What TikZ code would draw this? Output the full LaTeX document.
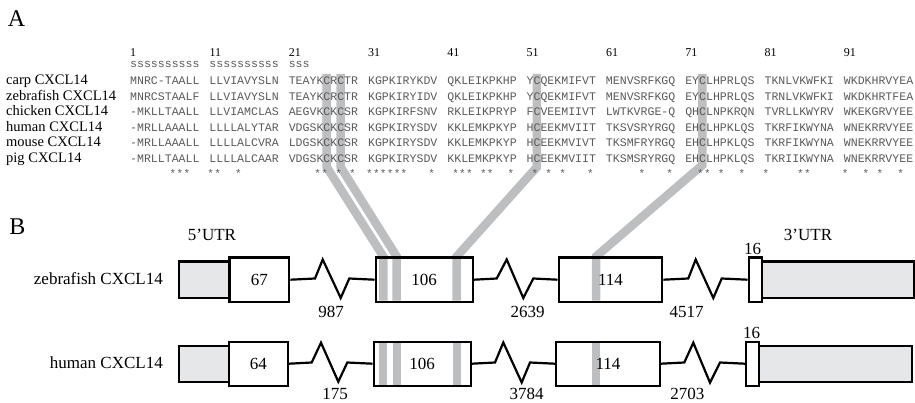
\documentclass[tikz,border=0pt]{standalone}
\usepackage{fontspec}
\setmainfont{Liberation Serif}
\newfontfamily\seqfont{Liberation Mono}
\usetikzlibrary{backgrounds}
\definecolor{hl}{HTML}{BDBEC0}
\definecolor{utr}{HTML}{E6E7E8}
\definecolor{seqgray}{HTML}{5A5A5A}
\newcommand{\bgap}{\hspace{10pt}}
\begin{document}
\begin{tikzpicture}[x=1pt,y=-1pt,
  seq/.style={font=\seqfont\fontsize{11.55}{13}\selectfont, text=seqgray, inner sep=0, anchor=base west},
  seqname/.style={font=\fontsize{14.5}{16}\selectfont, inner sep=0, anchor=base west},
  posnum/.style={font=\fontsize{12}{14}\selectfont, inner sep=0, anchor=base west},
  starmark/.style={font=\seqfont\fontsize{11}{12}\selectfont, text=seqgray, inner sep=0},
  panel/.style={font=\fontsize{24}{28}\selectfont, inner sep=0},
  gene/.style={font=\fontsize{17}{20}\selectfont, inner sep=0, anchor=base east},
  exon/.style={draw, line width=2.4pt, inner sep=0, anchor=north west, minimum height=44pt, font=\fontsize{17}{20}\selectfont},
  utrbox/.style={draw, fill=utr, line width=2.4pt, inner sep=0, anchor=north west, minimum height=36pt},
  intron/.style={line width=2.2pt, line join=miter},
  lbl/.style={font=\fontsize{17}{20}\selectfont, inner sep=0},
  cys/.style={draw=hl, line width=8.5pt, line join=miter},
  bar/.style={fill=hl}]
\useasboundingbox (0,0) rectangle (915,403);

% ---------- Panel A ----------
\node[panel] (A) at (16.5,18.5) {A};
\foreach \k [count=\i from 0] in {1,11,21,31,41,51,61,71,81,91}
  \node[posnum] (n\k) at (130+79.3*\i,56.5) {\k};
\node[seq] (ss) at (130,68) {ssssssssss\bgap ssssssssss\bgap sss};

\node[seqname] (lcarp) at (6,85) {carp CXCL14};
\node[seqname] (lzeb)  at (6,100.5) {zebrafish CXCL14};
\node[seqname] (lchk)  at (6,116) {chicken CXCL14};
\node[seqname] (lhum)  at (6,131.5) {human CXCL14};
\node[seqname] (lmou)  at (6,147) {mouse CXCL14};
\node[seqname] (lpig)  at (6,162.5) {pig CXCL14};

\node[seq] (scarp) at (130,85) {MNRC-TAALL\bgap LLVIAVYSLN\bgap TEAYKCRCTR\bgap KGPKIRYKDV\bgap QKLEIKPKHP\bgap YCQEKMIFVT\bgap MENVSRFKGQ\bgap EYCLHPRLQS\bgap TKNLVKWFKI\bgap WKDKHRVYEA};
\node[seq] (szeb) at (130,100.5) {MNRCSTAALF\bgap LLVIAVYSLN\bgap TEAYKCRCTR\bgap KGPKIRYIDV\bgap QKLEIKPKHP\bgap YCQEKMIFVT\bgap MENVSRFKGQ\bgap EYCLHPRLQS\bgap TRNLVKWFKI\bgap WKDKHRTFEA};
\node[seq] (schk) at (130,116) {-MKLLTAALL\bgap LLVIAMCLAS\bgap AEGVKCKCSR\bgap KGPKIRFSNV\bgap RKLEIKPRYP\bgap FCVEEMIIVT\bgap LWTKVRGE-Q\bgap QHCLNPKRQN\bgap TVRLLKWYRV\bgap WKEKGRVYEE};
\node[seq] (shum) at (130,131.5) {-MRLLAAALL\bgap LLLLALYTAR\bgap VDGSKCKCSR\bgap KGPKIRYSDV\bgap KKLEMKPKYP\bgap HCEEKMVIIT\bgap TKSVSRYRGQ\bgap EHCLHPKLQS\bgap TKRFIKWYNA\bgap WNEKRRVYEE};
\node[seq] (smou) at (130,147) {-MRLLAAALL\bgap LLLLALCVRA\bgap LDGSKCKCSR\bgap KGPKIRYSDV\bgap KKLEMKPKYP\bgap HCEEKMVIVT\bgap TKSMFRYRGQ\bgap EHCLHPKLQS\bgap TKRFIKWYNA\bgap WNEKRRVYEE};
\node[seq] (spig) at (130,162.5) {-MRLLTAALL\bgap LLLLALCAAR\bgap VDGSKCKCSR\bgap KGPKIRYSDV\bgap KKLEMKPKYP\bgap HCEEKMVIIT\bgap TKSMSRYRGQ\bgap EHCLHPKLQS\bgap TKRIIKWYNA\bgap WNEKRRVYEE};

\foreach \c in {7,8,9,11,12,15,25,26,28,30,31,32,33,34,35,36,40,42,43,44,46,47,50,52,54,56,60,66,70,73,74,76,79,81,86,87,91,94,96,99}{
  \pgfmathtruncatemacro\bb{(\c-1)/10}
  \pgfmathsetmacro\xx{130+79.3*\bb+(\c-1-10*\bb+0.5)*6.93-2}
  \node[starmark] (st\c) at (\xx,174) {*};
}

% ---------- Panel B ----------
\node[panel] (B) at (17.5,227) {B};
\node[lbl] (utr5) at (212,235) {5’UTR};
\node[lbl] (utr3) at (808,235) {3’UTR};
\node[gene] (gz) at (163,284) {zebrafish CXCL14};
\node[gene] (gh) at (163,368) {human CXCL14};

% zebrafish gene
\node[utrbox, minimum width=50.8pt] (uz5) at (177.5,260.5) {};
\node[exon, minimum width=59.7pt] (ez1) at (228.3,256.5) {67};
\node[exon, minimum width=97pt] (ez2) at (374.5,256.5) {106};
\node[exon, minimum width=103.5pt] (ez3) at (557.5,256.5) {114};
\node[utrbox, minimum width=152pt] (uz3) at (760.5,260.5) {};
\node[exon, minimum width=13pt] (ez4) at (747.5,256.5) {};
\node[lbl] (lz4) at (752.5,248.5) {16};

\draw[intron] (ez1.east) -- (315,278.5) -- (322.7,259.5) -- (340.7,298) -- (349.3,278.5) -- (ez2.west);
\draw[intron] (ez2.east) -- (496.7,278.5) -- (506.7,259.5) -- (523.3,298) -- (533.3,278.5) -- (ez3.west);
\draw[intron] (ez3.east) -- (688.3,278.5) -- (695.7,259.5) -- (713.3,298) -- (721.7,278.5) -- (ez4.west);
\node[lbl] (iz1) at (331,311.5) {987};
\node[lbl] (iz2) at (527.7,311.5) {2639};
\node[lbl] (iz3) at (686.7,311.5) {4517};

% human gene
\node[utrbox, minimum width=50.2pt] (uh5) at (177.5,344.5) {};
\node[exon, minimum width=59pt] (eh1) at (227.7,340.5) {64};
\node[exon, minimum width=97pt] (eh2) at (372.5,340.5) {106};
\node[exon, minimum width=103.5pt] (eh3) at (555,340.5) {114};
\node[utrbox, minimum width=153pt] (uh3) at (758,344.5) {};
\node[exon, minimum width=13pt] (eh4) at (745,340.5) {};
\node[lbl] (lh4) at (751.5,333) {16};

\draw[intron] (eh1.east) -- (311.7,362.5) -- (321,342.7) -- (338.3,381.7) -- (347.3,362.5) -- (eh2.west);
\draw[intron] (eh2.east) -- (495,362.5) -- (503.3,342.5) -- (521.7,382.5) -- (530,362.5) -- (eh3.west);
\draw[intron] (eh3.east) -- (684.3,362.5) -- (693.3,342.7) -- (710,382.7) -- (720,362.5) -- (eh4.west);
\node[lbl] (ih1) at (335,394) {175};
\node[lbl] (ih2) at (526.7,394) {3784};
\node[lbl] (ih3) at (687.3,394) {2703};

% conserved cysteines
\coordinate (c26) at (326.7,74);  \coordinate (k26) at (326.7,167);
\coordinate (c28) at (340.6,74);  \coordinate (k28) at (340.6,167);
\coordinate (c52) at (536.9,74);  \coordinate (k52) at (536.9,167);
\coordinate (c73) at (702.4,74);  \coordinate (k73) at (702.4,165);
\coordinate (t26) at (383.3,256.5); \coordinate (b26) at (383.3,300.5);
\coordinate (t28) at (396.7,256.5); \coordinate (b28) at (396.7,300.5);
\coordinate (t52) at (456.7,256.5); \coordinate (b52) at (456.7,300.5);
\coordinate (t73) at (596,256.5);   \coordinate (b73) at (596,300.5);
\begin{scope}[on background layer]
  \draw[cys] (c26) -- (k26) -- (t26) -- (b26);
  \draw[cys] (c28) -- (k28) -- (t28) -- (b28);
  \draw[cys] (c52) -- (k52) -- (t52) -- (b52);
  \draw[cys] (c73) -- (k73) -- (t73) -- (b73);
  \fill[bar] (379.3,340.5) rectangle (387.3,384.5);
  \fill[bar] (392.7,340.5) rectangle (400.7,384.5);
  \fill[bar] (452.7,340.5) rectangle (460.7,384.5);
  \fill[bar] (592,340.5) rectangle (600,384.5);
\end{scope}
\end{tikzpicture}
\end{document}
